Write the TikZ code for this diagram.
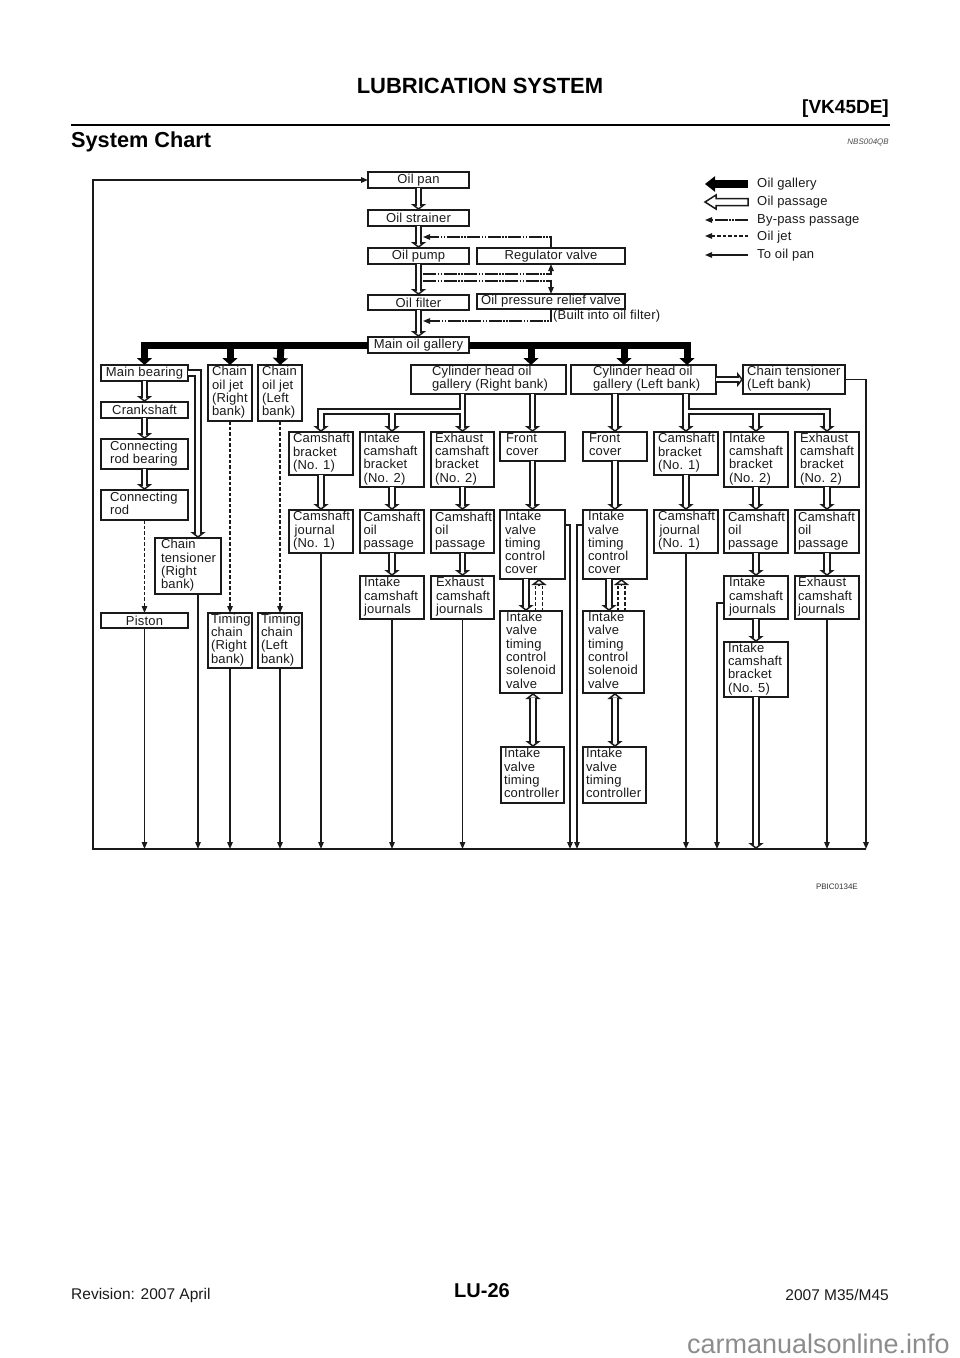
\documentclass[tikz,border=0pt]{standalone}
\usepackage{fontspec}
\setmainfont[LetterSpace=1.5]{Liberation Sans}
\newfontfamily\plainf{Liberation Sans}
\usetikzlibrary{arrows.meta,calc}
\definecolor{ink}{HTML}{1A1A1A}
\tikzset{
  boxnode/.style={draw=ink,line width=1.6pt,fill=white,outer sep=0pt,font=\fontsize{13}{13}\selectfont,text=ink},
  pipe/.style={draw=ink,double=white,line width=1.6pt,double distance=3.9pt},
  hd/.style={draw=ink,line width=1.5pt,-{Triangle[fill=white,length=6pt,width=15pt]}},
  bus/.style={draw=black,line width=7pt,-{Triangle[length=7pt,width=15pt]}},
  smalltip/.style={-{Triangle[length=7pt,width=5.5pt]}},
  panline/.style={draw=ink,line width=1.3pt,smalltip},
  frameline/.style={draw=ink,line width=1.5pt},
  bypass/.style={draw=ink,line width=1.2pt,dash pattern=on 13pt off 1.5pt on 1.5pt off 1.5pt on 1.5pt off 1.5pt},
  jetline/.style={draw=ink,line width=1.2pt,dash pattern=on 3.5pt off 2pt},
  legendtext/.style={anchor=west,inner sep=0pt,font=\fontsize{13}{13}\selectfont,text=ink},
}
\newcommand\bxx[7][4]{%
  \pgfmathsetmacro\bw{#5-#3}\pgfmathsetmacro\bh{#6-#4}%
  \node[boxnode,anchor=north west,minimum width=\bw pt,minimum height=\bh pt,inner sep=0pt] (#2) at (#3,#4) {\hbox to \bw pt{\hspace*{#1pt}\begin{tabular}[c]{@{}l@{}}#7\end{tabular}\hss}};}
\newcommand\bxc[6]{%
  \pgfmathsetmacro\bw{#4-#2}\pgfmathsetmacro\bh{#5-#3}%
  \node[boxnode,anchor=north west,minimum width=\bw pt,minimum height=\bh pt,inner sep=0pt,align=center] (#1) at (#2,#3) {#6};}
\newcommand\hdd[2]{\draw[hd] ($(#1)+#2$) -- (#1);}
\newcommand\pdn[2]{\hdd{#2}{(0,-6)}\draw[pipe] (#1) -- ($(#2)+(0,-4.5)$);}
\newcommand\panl[1]{\draw[panline] (#1) -- (#1 |- fb);}
\begin{document}
\begin{tikzpicture}[x=1pt,y=-1pt]
\useasboundingbox (0,0) rectangle (960,1358);
\coordinate (fb) at (0,849);
\coordinate (ctx) at (198,0);
% page furniture
\node[inner sep=0pt,text=black] (title) at (480,86) {\plainf\bfseries\fontsize{22}{24}\selectfont LUBRICATION SYSTEM};
\node[anchor=east,inner sep=0pt] (engine) at (889,109) {\plainf\bfseries\fontsize{19}{22}\selectfont [VK45DE]};
\coordinate (ruleL) at (71,125); \coordinate (ruleR) at (890,125);
\draw[line width=2.4pt,black] (ruleL) -- (ruleR);
\node[anchor=west,inner sep=0pt] (sect) at (71,141.5) {\plainf\bfseries\fontsize{21.7}{23}\selectfont System Chart};
\node[anchor=east,inner sep=0pt,text=black!70] (ncode) at (889,142) {\plainf\itshape\fontsize{8}{9}\selectfont NBS004QB};
\node[anchor=east,inner sep=0pt,text=black!80] (pcode) at (858,887) {\plainf\fontsize{8}{9}\selectfont PBIC0134E};
\node[inner sep=0pt] (pageno) at (482,1291) {\plainf\bfseries\fontsize{20}{22}\selectfont LU-26};
\node[anchor=west,inner sep=0pt,text=ink] (rev) at (71,1295) {\plainf\fontsize{15.5}{16}\selectfont Revision: 2007 April};
\node[anchor=east,inner sep=0pt,text=ink] (model) at (889,1295) {\plainf\fontsize{15.5}{16}\selectfont 2007 M35/M45};
\node[anchor=east,inner sep=0pt,text=black!45] (wm) at (950,1344) {\plainf\fontsize{27}{28}\selectfont carmanualsonline.info};
% centre column
\bxc{pan}{368}{172}{469}{188}{Oil pan}
\bxc{strainer}{368}{210}{469}{226}{Oil strainer}
\bxc{pump}{368}{248}{469}{264}{Oil pump}
\bxc{filter}{368}{295}{469}{310}{Oil filter}
\bxc{mog}{368}{337}{469}{353}{Main oil gallery}
\bxc{reg}{477}{248}{625}{264}{Regulator valve}
\bxc{relief}{477}{294}{625}{309}{Oil pressure relief valve}
\node[anchor=west,inner sep=0pt,font=\fontsize{13}{13}\selectfont,text=ink] (built) at (553,316) {(Built into oil filter)};
% left column
\bxc{mb}{101}{365}{188}{381}{Main bearing}
\bxc{crank}{101}{402}{188}{418}{Crankshaft}
\bxx[9]{crb}{101}{439}{188}{469}{Connecting\\rod bearing}
\bxx[9]{cr}{101}{490}{188}{520}{Connecting\\rod}
\bxx[6]{ctR}{155}{538}{221}{594}{Chain\\tensioner\\(Right\\bank)}
\bxc{piston}{101}{613}{188}{628}{Piston}
\bxx{jetR}{208}{365}{252}{421}{Chain\\oil jet\\(Right\\bank)}
\bxx{jetL}{258}{365}{302}{421}{Chain\\oil jet\\(Left\\bank)}
\bxx[3]{tcR}{208}{613}{252}{668}{Timing\\chain\\(Right\\bank)}
\bxx[3]{tcL}{258}{613}{302}{668}{Timing\\chain\\(Left\\bank)}
% right bank
\bxx[21]{cylR}{411}{365}{566}{394}{Cylinder head oil\\gallery (Right bank)}
\bxx{cbR}{289}{432}{353}{475}{Camshaft\\bracket\\(No. 1)}
\bxx{cjR}{289}{510}{353}{553}{Camshaft\\\hspace*{1.5pt}journal\\(No. 1)}
\bxx[3.5]{ibR}{360}{432}{424}{487}{Intake\\camshaft\\bracket\\(No. 2)}
\bxx[3.5]{ipR}{360}{510}{424}{553}{Camshaft\\oil\\passage}
\bxx[4]{ijR}{360}{576}{424}{619}{Intake\\camshaft\\journals}
\bxx{ebR}{431}{432}{494}{487}{Exhaust\\camshaft\\bracket\\(No. 2)}
\bxx{epR}{431}{510}{494}{553}{Camshaft\\oil\\passage}
\bxx[5]{ejR}{431}{576}{494}{619}{Exhaust\\camshaft\\journals}
\bxx[6]{fcR}{500}{432}{565}{461}{Front\\cover}
\bxx[5]{tcvR}{500}{510}{565}{579}{Intake\\valve\\timing\\control\\cover}
\bxx[6]{solR}{500}{611}{562}{693}{Intake\\valve\\timing\\control\\solenoid\\valve}
\bxx[3]{ctlR}{501}{747}{564}{803}{Intake\\valve\\timing\\controller}
% left bank
\bxx[22]{cylL}{571}{365}{716}{394}{Cylinder head oil\\gallery (Left bank)}
\bxx{tenL}{743}{365}{845}{394}{Chain tensioner\\(Left bank)}
\bxx[6]{fcL}{583}{432}{647}{461}{Front\\cover}
\bxx[5]{tcvL}{583}{510}{647}{579}{Intake\\valve\\timing\\control\\cover}
\bxx[5]{solL}{583}{611}{644}{693}{Intake\\valve\\timing\\control\\solenoid\\valve}
\bxx[3]{ctlL}{583}{747}{646}{803}{Intake\\valve\\timing\\controller}
\bxx{cbL}{654}{432}{718}{475}{Camshaft\\bracket\\(No. 1)}
\bxx{cjL}{654}{510}{718}{553}{Camshaft\\\hspace*{1.5pt}journal\\(No. 1)}
\bxx[5]{ibL}{724}{432}{788}{487}{Intake\\camshaft\\bracket\\(No. 2)}
\bxx{ipL}{724}{510}{788}{553}{Camshaft\\oil\\passage}
\bxx[5]{ijL}{724}{576}{788}{619}{Intake\\camshaft\\journals}
\bxx{ib5}{724}{642}{788}{697}{Intake\\camshaft\\bracket\\(No. 5)}
\bxx[5]{ebL}{795}{432}{859}{487}{Exhaust\\camshaft\\bracket\\(No. 2)}
\bxx[3]{epL}{795}{510}{859}{553}{Camshaft\\oil\\passage}
\bxx[3]{ejL}{795}{576}{859}{619}{Exhaust\\camshaft\\journals}
% oil gallery (solid)
\coordinate (busJ1) at (230,345); \coordinate (busJ2) at (281,345);
\coordinate (busJ3) at (531,345); \coordinate (busJ4) at (624,345);
\coordinate (busEnd) at (687,345);
\draw[bus] (mog.west) -| (mb.north);
\draw[bus] (mog.east) -| (busEnd |- cylL.north);
\draw[bus] (busJ1) -- (jetR.north);
\draw[bus] (busJ2) -- (jetL.north);
\draw[bus] (busJ3) -- (busJ3 |- cylR.north);
\draw[bus] (busJ4) -- (busJ4 |- cylL.north);
% oil passages (hollow)
\pdn{pan.south}{strainer.north}
\pdn{strainer.south}{pump.north}
\pdn{pump.south}{filter.north}
\pdn{filter.south}{mog.north}
\pdn{mb.south}{crank.north}
\pdn{crank.south}{crb.north}
\pdn{crb.south}{cr.north}
\hdd{ctx |- ctR.north}{(0,-6)}
\draw[pipe] (mb.east) -| ($(ctx |- ctR.north)+(0,-4.5)$);
\pdn{cbR.south}{cjR.north}
\pdn{ibR.south}{ipR.north}
\pdn{ipR.south}{ijR.north}
\pdn{ebR.south}{epR.north}
\pdn{epR.south}{ejR.north}
\pdn{fcR.south}{tcvR.north}
\pdn{fcL.south}{tcvL.north}
\pdn{cbL.south}{cjL.north}
\pdn{ibL.south}{ipL.north}
\pdn{ipL.south}{ijL.north}
\pdn{ijL.south}{ib5.north}
\pdn{ebL.south}{epL.north}
\pdn{epL.south}{ejL.north}
\pdn{fcR.north |- cylR.south}{fcR.north}
\pdn{fcL.north |- cylL.south}{fcL.north}
% branch trees
\coordinate (trR) at (462,411.5);
\hdd{cbR.north}{(0,-6)}\hdd{ibR.north}{(0,-6)}\hdd{ebR.north}{(0,-6)}
\draw[pipe] (ebR.north |- cylR.south) -- ($(ebR.north)+(0,-4.5)$)
  (ebR.north |- trR) -| ($(cbR.north)+(0,-4.5)$)
  (ibR.north |- trR) -- ($(ibR.north)+(0,-4.5)$);
\coordinate (trL) at (686,411.5);
\hdd{cbL.north}{(0,-6)}\hdd{ibL.north}{(0,-6)}\hdd{ebL.north}{(0,-6)}
\draw[pipe] (cbL.north |- cylL.south) -- ($(cbL.north)+(0,-4.5)$)
  (cbL.north |- trL) -| ($(ebL.north)+(0,-4.5)$)
  (ibL.north |- trL) -- ($(ibL.north)+(0,-4.5)$);
% chain tensioner left
\hdd{tenL.west}{(-6,0)}
\draw[pipe] (cylL.east) -- ($(tenL.west)+(-4.5,0)$);
% cover to solenoid
\coordinate (sdR) at (526,0); \coordinate (suR) at (539,0);
\coordinate (sdL) at (609,0); \coordinate (suL) at (621.5,0);
\coordinate (dblR) at (533,0); \coordinate (dblL) at (615,0);
\pdn{sdR |- tcvR.south}{sdR |- solR.north}
\pdn{sdL |- tcvL.south}{sdL |- solL.north}
\foreach \c/\bx/\by in {suR/tcvR/solR,suL/tcvL/solL}{
  \hdd{\c |- \bx.south}{(0,6)}
  \draw[jetline,line width=1.3pt] ($(\c |- \by.north)+(-3.4,0)$) -- ($(\c |- \bx.south)+(-3.4,5)$);
  \draw[jetline,line width=1.3pt] ($(\c |- \by.north)+(3.4,0)$) -- ($(\c |- \bx.south)+(3.4,5)$);
}
% two-way passages
\foreach \c/\ub/\lb in {dblR/solR/ctlR,dblL/solL/ctlL}{
  \hdd{\c |- \ub.south}{(0,6)}
  \hdd{\c |- \lb.north}{(0,-6)}
  \draw[pipe] ($(\c |- \ub.south)+(0,4.5)$) -- ($(\c |- \lb.north)+(0,-4.5)$);
}
% double pipe to frame
\coordinate (dbl5) at (756,849);
\hdd{dbl5}{(0,-6)}
\draw[pipe] (ib5.south) -- ($(dbl5)+(0,-4.5)$);
% by-pass
\coordinate (bp1) at (423,237); \coordinate (bp2) at (423,274);
\coordinate (bp3) at (423,281); \coordinate (bp4) at (423,321);
\draw[bypass,smalltip] (reg.north) |- (bp1);
\draw[bypass,smalltip] (bp2) -| (reg.south);
\draw[bypass,smalltip] (bp3) -| (relief.north);
\draw[bypass,smalltip] (relief.south) |- (bp4);
% oil jets
\draw[jetline,smalltip] (cr.south) -- (piston.north);
\draw[jetline,smalltip] (jetR.south) -- (tcR.north);
\draw[jetline,smalltip] (jetL.south) -- (tcL.north);
% return lines
\panl{piston.south}
\draw[panline] (ctx |- ctR.south) -- (ctx |- fb);
\panl{tcR.south}
\panl{tcL.south}
\panl{cjR.south}
\panl{ijR.south}
\panl{ejR.south}
\panl{cjL.south}
\panl{ejL.south}
\coordinate (rtR) at (570,525); \coordinate (rtL) at (577,525); \coordinate (rtI) at (717,603);
\draw[panline] (tcvR.east |- rtR) -| (rtR |- fb);
\draw[panline] (tcvL.west |- rtL) -| (rtL |- fb);
\draw[panline] (ijL.west |- rtI) -| (rtI |- fb);
% frame
\coordinate (fr) at (866,849); \coordinate (fl) at (93,849); \coordinate (ft) at (93,180);
\draw[frameline,smalltip] (tenL.east) -| (fr);
\draw[frameline,smalltip] (fr) -- (fl) -- (ft) -- (pan.west);
% legend
\node[legendtext] (lg1) at (757,184) {Oil gallery};
\node[legendtext] (lg2) at (757,202) {Oil passage};
\node[legendtext] (lg3) at (757,220) {By-pass passage};
\node[legendtext] (lg4) at (757,237) {Oil jet};
\node[legendtext] (lg5) at (757,255) {To oil pan};
\coordinate (le1) at (705,184); \coordinate (le3) at (705,220); \coordinate (le4) at (705,236); \coordinate (le5) at (705,255);
\coordinate (ls1) at (748,184); \coordinate (ls3) at (748,220); \coordinate (ls4) at (748,236); \coordinate (ls5) at (748,255);
\draw[line width=8pt,black,-{Triangle[length=10pt,width=15pt]}] (ls1) -- (le1);
\draw[draw=ink,line width=1.5pt,fill=white] (748,198.5) -- (716,198.5) -- (716,195) -- (705,202) -- (716,209) -- (716,205.5) -- (748,205.5) -- cycle;
\draw[bypass,smalltip] (ls3) -- (le3);
\draw[jetline,smalltip] (ls4) -- (le4);
\draw[panline] (ls5) -- (le5);
\end{tikzpicture}
\end{document}
